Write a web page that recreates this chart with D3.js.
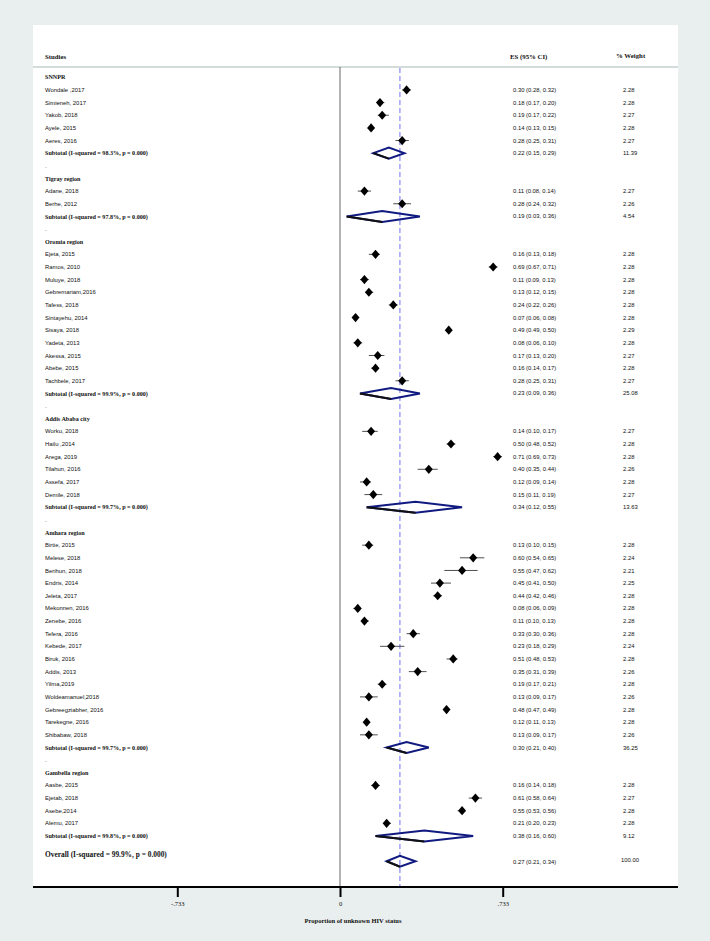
<!DOCTYPE html>
<meta charset="utf-8">
<style>
body {
  margin: 0;
  background: #e9eeee;
}
svg {
  display: block;
}
.lbl {
  font-family: 'Liberation Sans', Arial, sans-serif;
  font-size: 5.9px;
  fill: #111;
}
.hd {
  font-family: 'Liberation Serif', 'Times New Roman', serif;
  font-weight: bold;
  font-size: 6.1px;
  fill: #111;
}
.colhd {
  font-size: 6.8px;
}
.num {
  font-family: 'Liberation Sans', Arial, sans-serif;
  font-size: 5.9px;
  fill: #111;
}
.tick text {
  font-family: 'Liberation Serif', serif;
  font-size: 6.5px;
  fill: #111;
}
</style>
<body>
<div class="viz"></div>
<script src="https://cdn.jsdelivr.net/npm/d3@7"></script>
<script>

// regions and their studies
var regions = ["SNNPR", "Tigray region", "Oromia region", "Addis Ababa city", "Amhara region", "Gambella region"];

var studies = [
  ["Wondale ,2017", "Simieneh, 2017", "Yakob, 2018", "Ayele, 2015", "Aeres, 2016"],
  ["Adane, 2018", "Berhe, 2012"],
  ["Ejeta, 2015", "Ramos,  2010", "Muluye, 2018", "Gebremariam,2016", "Tafess, 2018", "Sintayehu, 2014",
   "Sisaya, 2018", "Yadeta, 2013", "Akessa, 2015", "Abebe, 2015", "Tachbele, 2017"],
  ["Worku, 2018", "Hailu ,2014", "Arega, 2019", "Tilahun, 2016", "Assefa, 2017", "Demile, 2018"],
  ["Birtie, 2015", "Melese, 2018", "Berihun, 2018", "Endris, 2014", "Jeleta, 2017", "Mekonnen, 2016",
   "Zenebe, 2016", "Tefera, 2016", "Kebede, 2017", "Biruk, 2016", "Addis, 2013", "Yilma,2019",
   "Woldeamanuel,2018", "Gebreegziabher, 2016", "Tarekegne, 2016", "Shibabaw, 2018"],
  ["Aasbe, 2015", "Ejetab, 2018", "Asebe,2014", "Alemu, 2017"]
];

var es = [
  [0.30, 0.18, 0.19, 0.14, 0.28],
  [0.11, 0.28],
  [0.16, 0.69, 0.11, 0.13, 0.24, 0.07, 0.49, 0.08, 0.17, 0.16, 0.28],
  [0.14, 0.50, 0.71, 0.40, 0.12, 0.15],
  [0.13, 0.60, 0.55, 0.45, 0.44, 0.08, 0.11, 0.33, 0.23, 0.51, 0.35, 0.19, 0.13, 0.48, 0.12, 0.13],
  [0.16, 0.61, 0.55, 0.21]
];
var lo = [
  [0.28, 0.17, 0.17, 0.13, 0.25],
  [0.08, 0.24],
  [0.13, 0.67, 0.09, 0.12, 0.22, 0.06, 0.49, 0.06, 0.13, 0.14, 0.25],
  [0.10, 0.48, 0.69, 0.35, 0.09, 0.11],
  [0.10, 0.54, 0.47, 0.41, 0.42, 0.06, 0.10, 0.30, 0.18, 0.48, 0.31, 0.17, 0.09, 0.47, 0.11, 0.09],
  [0.14, 0.58, 0.53, 0.20]
];
var hi = [
  [0.32, 0.20, 0.22, 0.15, 0.31],
  [0.14, 0.32],
  [0.18, 0.71, 0.13, 0.15, 0.26, 0.08, 0.50, 0.10, 0.20, 0.17, 0.31],
  [0.17, 0.52, 0.73, 0.44, 0.14, 0.19],
  [0.15, 0.65, 0.62, 0.50, 0.46, 0.09, 0.13, 0.36, 0.29, 0.53, 0.39, 0.21, 0.17, 0.49, 0.13, 0.17],
  [0.18, 0.64, 0.56, 0.23]
];
var weights = [
  ["2.28", "2.28", "2.27", "2.28", "2.27"],
  ["2.27", "2.26"],
  ["2.28", "2.28", "2.28", "2.28", "2.28", "2.28", "2.29", "2.28", "2.27", "2.28", "2.27"],
  ["2.27", "2.28", "2.28", "2.26", "2.28", "2.27"],
  ["2.28", "2.24", "2.21", "2.25", "2.28", "2.28", "2.28", "2.28", "2.24", "2.28", "2.26", "2.28",
   "2.26", "2.28", "2.28", "2.26"],
  ["2.28", "2.27", "2.28", "2.28"]
];

// subtotals per region
var subI2 = ["98.3", "97.8", "99.9", "99.7", "99.7", "99.8"];
var subEs = [0.22, 0.19, 0.23, 0.34, 0.30, 0.38];
var subLo = [0.15, 0.03, 0.09, 0.12, 0.21, 0.16];
var subHi = [0.29, 0.36, 0.36, 0.55, 0.40, 0.60];
var subWt = ["11.39", "4.54", "25.08", "13.63", "36.25", "9.12"];

var overallI2 = "99.9";
var overallEs = 0.27, overallLo = 0.21, overallHi = 0.34, overallWt = "100.00";

var tickVals = [-0.733, 0, 0.733];
var tickLabels = ["-.733", "0", ".733"];

const W = 710, H = 941;
const panel = {left: 33, right: 678, top: 25, bottom: 887};
const labelX = 45, esX = 513, wtX = 623;
const row0 = 77.3, rowH = 12.645;

var x = d3.scaleLinear()
  .domain([0, 0.733])
  .range([340, 502.7]);

function rowY(i) { return row0 + i * rowH; }

function fmt(v) { return v.toFixed(2); }

// build the row list
var rows = [];
var r = 0;
regions.forEach(function(reg, g) {
  rows.push({type: "head", text: reg, i: r++});
  studies[g].forEach(function(s, k) {
    rows.push({type: "study", text: s, es: es[g][k], lo: lo[g][k], hi: hi[g][k], wt: weights[g][k], i: r++});
  });
  rows.push({type: "sub", text: "Subtotal  (I-squared = " + subI2[g] + "%, p = 0.000)",
    es: subEs[g], lo: subLo[g], hi: subHi[g], wt: subWt[g], i: r++});
  if (g < regions.length - 1) rows.push({type: "blank", text: ".", i: r++});
});
r++;
var overallRow = r;

var svg = d3.select(".viz").append("svg")
  .attr("width", W)
  .attr("height", H);

svg.append("rect")
  .attr("x", panel.left)
  .attr("y", panel.top)
  .attr("width", panel.right - panel.left)
  .attr("height", panel.bottom - panel.top)
  .attr("fill", "#fff");

// column headers
svg.append("text").attr("class", "hd colhd").attr("x", labelX).attr("y", 59).text("Studies");
svg.append("text").attr("class", "hd colhd").attr("x", esX - 3).attr("y", 59).text("ES (95% CI)");
svg.append("text").attr("class", "hd colhd").attr("x", wtX - 7).attr("y", 58).text("% Weight");

svg.append("line")
  .attr("x1", panel.left).attr("x2", panel.right)
  .attr("y1", 67).attr("y2", 67)
  .attr("stroke", "#c5cfcf")
  .attr("stroke-width", 1.5);

// zero line and overall line
svg.append("line")
  .attr("x1", x(0)).attr("x2", x(0))
  .attr("y1", 67).attr("y2", panel.bottom)
  .attr("stroke", "#555")
  .attr("stroke-width", 0.9);

svg.append("line")
  .attr("x1", x(overallEs)).attr("x2", x(overallEs))
  .attr("y1", 68).attr("y2", panel.bottom)
  .attr("stroke", "#7070f0")
  .attr("stroke-width", 1)
  .attr("stroke-dasharray", "5,3");

// left labels
svg.selectAll(".rowlbl")
  .data(rows)
  .enter()
  .append("text")
  .attr("class", function(d) { return d.type == "study" || d.type == "blank" ? "lbl" : "hd"; })
  .attr("x", labelX)
  .attr("y", function(d) { return rowY(d.i); })
  .attr("dy", "0.35em")
  .text(function(d) { return d.text; });

var withEs = rows.filter(function(d) { return d.type == "study" || d.type == "sub"; });

svg.selectAll(".estxt")
  .data(withEs)
  .enter()
  .append("text")
  .attr("class", "num")
  .attr("x", esX)
  .attr("y", function(d) { return rowY(d.i); })
  .attr("dy", "0.35em")
  .text(function(d) { return fmt(d.es) + " (" + fmt(d.lo) + ", " + fmt(d.hi) + ")"; });

svg.selectAll(".wttxt")
  .data(withEs)
  .enter()
  .append("text")
  .attr("class", "num")
  .attr("x", wtX)
  .attr("y", function(d) { return rowY(d.i); })
  .attr("dy", "0.35em")
  .text(function(d) { return d.wt; });

// study CIs and markers
var st = rows.filter(function(d) { return d.type == "study"; });

svg.selectAll(".ci")
  .data(st)
  .enter()
  .append("line")
  .attr("x1", function(d) { return x(d.lo); })
  .attr("x2", function(d) { return x(d.hi); })
  .attr("y1", function(d) { return rowY(d.i); })
  .attr("y2", function(d) { return rowY(d.i); })
  .attr("stroke", "#222")
  .attr("stroke-width", 0.8);

svg.selectAll(".pt")
  .data(st)
  .enter()
  .append("path")
  .attr("d", function(d) {
    var cx = x(d.es), cy = rowY(d.i);
    return "M" + (cx - 4) + "," + cy + "L" + cx + "," + (cy - 4.6) + "L" + (cx + 4) + "," + cy +
      "L" + cx + "," + (cy + 4.6) + "Z";
  })
  .attr("fill", "#000");

// pooled diamonds
function diamond(d, cy) {
  return "M" + x(d.lo) + "," + cy + "L" + x(d.es) + "," + (cy - 5.5) + "L" + x(d.hi) + "," + cy +
    "L" + x(d.es) + "," + (cy + 5.5) + "Z";
}

var subs = rows.filter(function(d) { return d.type == "sub"; });
subs.push({es: overallEs, lo: overallLo, hi: overallHi, i: overallRow});

svg.selectAll(".dia")
  .data(subs)
  .enter()
  .append("path")
  .attr("d", function(d) { return diamond(d, rowY(d.i)); })
  .attr("fill", "none")
  .attr("stroke", "#101a80")
  .attr("stroke-width", 2);

// lower-left edge comes out darker in the original
svg.selectAll(".diaedge")
  .data(subs)
  .enter()
  .append("line")
  .attr("x1", function(d) { return x(d.lo); })
  .attr("y1", function(d) { return rowY(d.i); })
  .attr("x2", function(d) { return x(d.es); })
  .attr("y2", function(d) { return rowY(d.i) + 5.5; })
  .attr("stroke", "#111")
  .attr("stroke-width", 2);

// overall row
svg.append("text")
  .attr("class", "hd")
  .style("font-size", "7.4px")
  .attr("x", labelX)
  .attr("y", rowY(overallRow) - 6.5)
  .attr("dy", "0.35em")
  .text("Overall  (I-squared = " + overallI2 + "%, p = 0.000)");

svg.append("text")
  .attr("class", "num")
  .attr("x", esX)
  .attr("y", rowY(overallRow) + 1)
  .attr("dy", "0.35em")
  .text(fmt(overallEs) + " (" + fmt(overallLo) + ", " + fmt(overallHi) + ")");

svg.append("text")
  .attr("class", "num")
  .attr("x", wtX - 2)
  .attr("y", rowY(overallRow) - 1)
  .attr("dy", "0.35em")
  .text(overallWt);

// x axis
svg.append("line")
  .attr("x1", panel.left).attr("x2", panel.right)
  .attr("y1", panel.bottom).attr("y2", panel.bottom)
  .attr("stroke", "#000")
  .attr("stroke-width", 2);

var ax = svg.append("g")
  .attr("transform", "translate(0," + panel.bottom + ")")
  .call(d3.axisBottom(x)
    .tickValues(tickVals)
    .tickFormat(function(d, i) { return tickLabels[i]; })
    .tickSize(10)
    .tickPadding(4));
ax.select(".domain").remove();
ax.selectAll(".tick line").attr("stroke", "#000").attr("stroke-width", 2);

svg.append("text")
  .attr("class", "hd")
  .style("font-size", "6.5px")
  .attr("x", 353)
  .attr("y", 923)
  .style("text-anchor", "middle")
  .text("Proportion of unknown HIV status");

</script>
</body>
